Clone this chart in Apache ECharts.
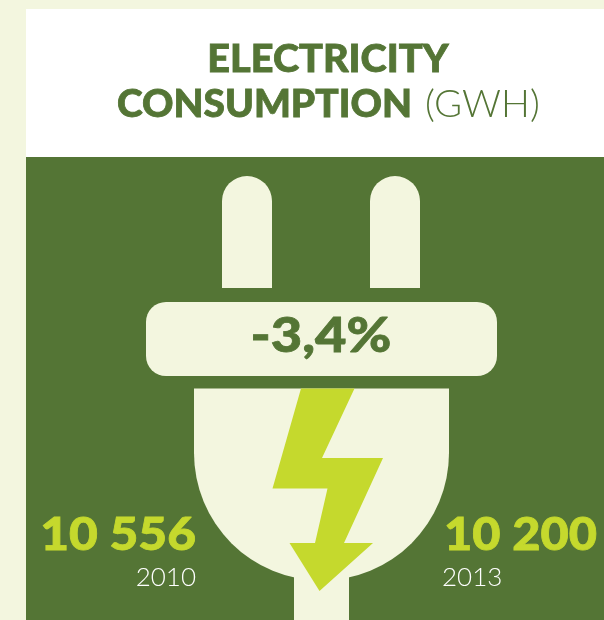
<!DOCTYPE html>
<html>
<head>
<meta charset="utf-8">
<title>Electricity consumption</title>
<style>
html, body { margin: 0; padding: 0; background: #f3f6df; }
#main { width: 604px; height: 620px; }
</style>
<script src="https://cdn.jsdelivr.net/npm/echarts@6/dist/echarts.min.js"></script>
</head>
<body>
<div id="main"></div>
<script>
// values
var years = ['2010', '2013'];
var consumption = [10556, 10200];
var changeLabel = '-3,4%';
var titleLines = ['ELECTRICITY', 'CONSUMPTION'];
var titleUnit = '(GWH)';

var GREEN = '#547535', CREAM = '#f3f6df', LIME = '#c5d92d';
var FONT = 'Lato';

// 10556 -> "10 556"
function fmt(v) {
    return String(v).replace(/\B(?=(\d{3})+$)/g, ' ');
}

// y is the middle of the line, stretch widens the glyphs around x
function label(text, x, y, size, weight, color, align, stretch) {
    return {
        type: 'text',
        x: x,
        y: y,
        scaleX: stretch || 1,
        style: {
            text: text,
            fill: color,
            // the black weight comes out a bit thin, thicken it
            stroke: weight == 900 ? color : null,
            lineWidth: weight == 900 ? 0.8 : 0,
            font: weight + ' ' + size + 'px ' + FONT,
            align: align,
            verticalAlign: 'middle'
        }
    };
}

var chart = echarts.init(document.getElementById('main'), null, { renderer: 'canvas' });

chart.setOption({
    backgroundColor: CREAM,
    animation: false,
    graphic: {
        elements: [
            // panels
            { type: 'rect', shape: { x: 26, y: 9, width: 578, height: 148 }, style: { fill: '#ffffff' } },
            { type: 'rect', shape: { x: 26, y: 157, width: 578, height: 463 }, style: { fill: GREEN } },

            // plug
            { type: 'rect', shape: { x: 222, y: 176, width: 50, height: 112, r: [25, 25, 0, 0] }, style: { fill: CREAM } },
            { type: 'rect', shape: { x: 370, y: 176, width: 50, height: 112, r: [25, 25, 0, 0] }, style: { fill: CREAM } },
            { type: 'rect', shape: { x: 146, y: 302, width: 351, height: 74, r: 20 }, style: { fill: CREAM } },
            { type: 'rect', shape: { x: 194, y: 388.5, width: 255, height: 65 }, style: { fill: CREAM } },
            { type: 'sector', shape: { cx: 321.5, cy: 453, r: 127.5, r0: 0, startAngle: 0, endAngle: Math.PI }, style: { fill: CREAM } },
            { type: 'rect', shape: { x: 294, y: 570, width: 55, height: 50 }, style: { fill: CREAM } },
            // bolt
            {
                type: 'polygon',
                shape: { points: [[301, 388.5], [354.5, 388.5], [322, 458], [383, 458], [344, 543], [373, 543], [319.5, 591], [289.5, 543], [315, 543], [327.5, 488.5], [272.5, 488.5]] },
                style: { fill: LIME }
            },

            // title
            label(titleLines[0], 328, 60, 37, 900, GREEN, 'center', 1.07),
            label(titleLines[1], 412, 105, 37, 900, GREEN, 'right', 1.05),
            label(titleUnit, 425, 105, 37, 300, GREEN, 'left', 1.035),

            // figures
            label(changeLabel, 321, 337, 48, 900, GREEN, 'center', 1.13),
            label(fmt(consumption[0]), 196, 535, 46, 900, LIME, 'right', 1.08),
            label(years[0], 196, 578, 26, 300, '#ffffff', 'right'),
            label(fmt(consumption[1]), 444, 535, 46, 900, LIME, 'left', 1.06),
            label(years[1], 442, 578, 26, 300, '#ffffff', 'left')
        ]
    }
});
</script>
</body>
</html>
